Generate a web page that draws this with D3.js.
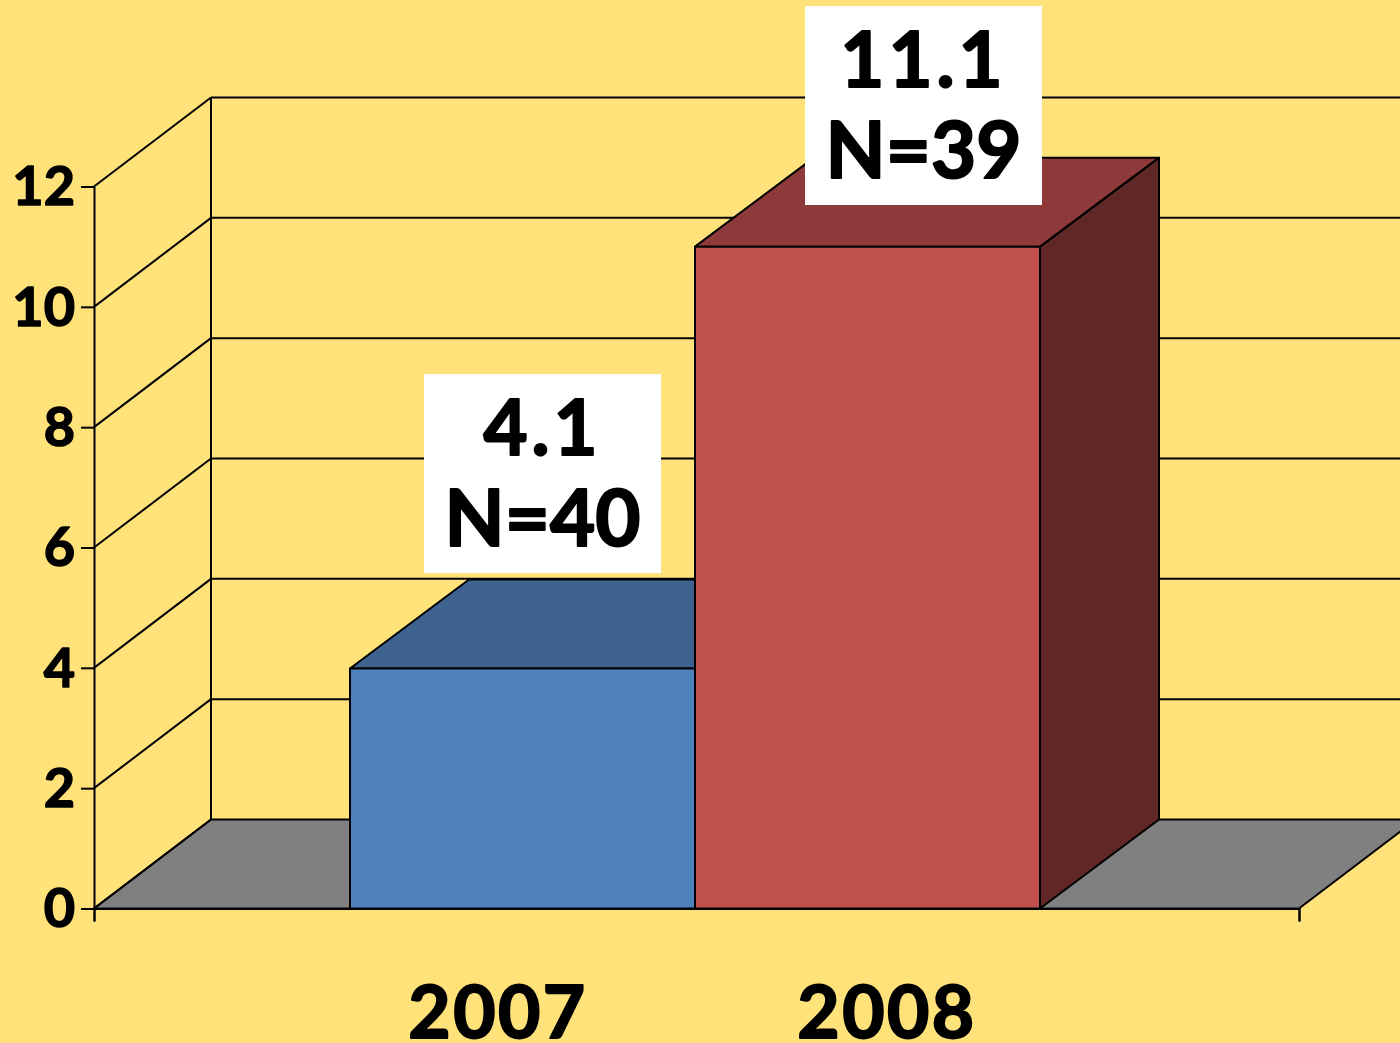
<!DOCTYPE html>
<html>
<head>
<meta charset="utf-8">
<script src="https://cdn.jsdelivr.net/npm/d3@7"></script>
<style>
  html, body { margin: 0; padding: 0; background: #FFE27A; overflow: hidden; }
  text { font-family: "Lato", "Open Sans", sans-serif; font-weight: 700; fill: #000; stroke: #000; stroke-linejoin: round; paint-order: stroke; }
</style>
</head>
<body>
<svg id="chart" width="1400" height="1043"></svg>
<script>
const categories = ["2007", "2008"];
// bar heights as drawn, they sit a bit under the printed numbers
const bar_values = [3.99, 11];
const value_labels = ["4.1", "11.1"];
const n_labels = ["N=40", "N=39"];
const y_ticks = [0, 2, 4, 6, 8, 10, 12];

const front_colors = ["#4F81BD", "#C0504D"];
const top_colors = ["#3E6390", "#8E3A3A"];
const side_colors = ["#3E6390", "#602726"];

const svg = d3.select("#chart");

const y = d3.scaleLinear().domain([0, 12]).range([908.5, 186.5]);
const x = d3.scaleBand().domain(categories).range([350, 1040]).padding(0);
const floor_x = d3.scaleLinear().domain([0, 1]).range([94, 1299]);

const wall_dx = 117, wall_dy = -89;
const bar_dx = 119, bar_dy = -89;
const line_w = 2;

function poly(points, fill) {
  svg.append("polygon")
    .attr("points", points.map(p => p.join(",")).join(" "))
    .attr("fill", fill)
    .attr("stroke", "#000")
    .attr("stroke-width", line_w)
    .attr("stroke-linejoin", "round");
}

function seg(x1, y1, x2, y2) {
  svg.append("line")
    .attr("x1", x1).attr("y1", y1).attr("x2", x2).attr("y2", y2)
    .attr("stroke", "#000").attr("stroke-width", line_w);
}

// floor
const x0 = floor_x(0), x1 = floor_x(1), y0 = y(0);
poly([[x0, y0], [x0 + wall_dx, y0 + wall_dy], [x1 + wall_dx, y0 + wall_dy], [x1, y0]], "#808080");

// grid on the side wall and the back wall
seg(x0 + wall_dx, y(12) + wall_dy, x0 + wall_dx, y0 + wall_dy);
y_ticks.forEach(t => {
  seg(x0, y(t), x0 + wall_dx, y(t) + wall_dy);
  if (t > 0) seg(x0 + wall_dx, y(t) + wall_dy, 1400, y(t) + wall_dy);
});

// axes
const y_axis = svg.append("g")
  .attr("transform", "translate(" + x0 + ",0)")
  .call(d3.axisLeft(y).tickValues(y_ticks).tickSize(13).tickPadding(6).tickSizeOuter(0));
y_axis.selectAll("line").attr("stroke", "#000").attr("stroke-width", line_w);
y_axis.select(".domain").attr("stroke", "#000").attr("stroke-width", line_w);
y_axis.selectAll("text")
  .style("font-size", "54px")
  .style("stroke-width", "1.5px")
  .attr("dy", "0.34em");

const x_axis = svg.append("g")
  .attr("transform", "translate(0," + y0 + ")")
  .call(d3.axisBottom(floor_x).tickValues([0, 1]).tickSize(13).tickFormat(""));
x_axis.select(".domain").attr("stroke", "#000").attr("stroke-width", line_w);
x_axis.selectAll("line").attr("stroke", "#000").attr("stroke-width", line_w);

// bars, 2007 first so the red one covers its top
categories.forEach((c, i) => {
  const l = x(c), r = l + x.bandwidth(), t = y(bar_values[i]);
  poly([[r, y0], [r + bar_dx, y0 + bar_dy], [r + bar_dx, t + bar_dy], [r, t]], side_colors[i]);
  poly([[l, t], [l + bar_dx, t + bar_dy], [r + bar_dx, t + bar_dy], [r, t]], top_colors[i]);
  poly([[l, t], [r, t], [r, y0], [l, y0]], front_colors[i]);
});

// white label boxes
const box_w = 237, box_h = 199;
const box_left = [424, 805], box_top = [374, 6];
categories.forEach((c, i) => {
  const g = svg.append("g").attr("transform", "translate(" + box_left[i] + "," + box_top[i] + ")");
  g.append("rect").attr("width", box_w).attr("height", box_h).attr("fill", "#fff");
  g.append("text")
    .attr("x", box_w / 2).attr("y", 81)
    .attr("text-anchor", "middle")
    .style("font-size", "76px").style("stroke-width", "2px").style("letter-spacing", "4px")
    .text(value_labels[i]);
  g.append("text")
    .attr("x", box_w / 2).attr("y", 172)
    .attr("text-anchor", "middle")
    .style("font-size", "78px").style("stroke-width", "2px")
    .text(n_labels[i]);
});

// category labels are not centred under the bars in the original
const label_x = [498, 887];
svg.selectAll(".cat").data(categories).enter().append("text")
  .attr("class", "cat")
  .attr("x", (d, i) => label_x[i])
  .attr("y", 1038)
  .attr("text-anchor", "middle")
  .style("font-size", "73px")
  .style("stroke-width", "2px")
  .style("letter-spacing", "2.5px")
  .text(d => d);
</script>
</body>
</html>
